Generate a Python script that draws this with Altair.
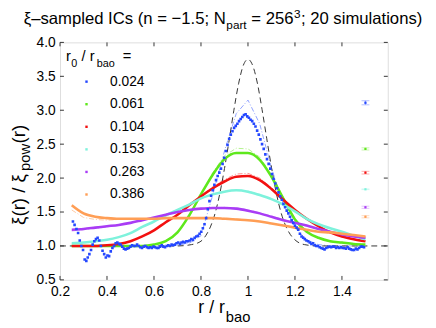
import altair as alt
import pandas as pd

FONT = "Liberation Sans"

# ---------------- data ----------------
labels = ["0.024", "0.061", "0.104", "0.153", "0.263", "0.386"]
colors = ["#2447ff", "#5ee81c", "#f21010", "#7ef2dc", "#a93cf5", "#ff9e55"]
model_colors = ["#92a3ff", "#b4f28e", "#ff8f8f", "#c2f8ef", "#d8a8fb", "#ffcaa3"]

grid_r = [0.25, 0.30, 0.35, 0.40, 0.45, 0.50, 0.55, 0.60, 0.65, 0.70, 0.75, 0.80, 0.85,
          0.90, 0.95, 1.00, 1.05, 1.10, 1.15, 1.20, 1.25, 1.30, 1.35, 1.40, 1.45, 1.50]

green_v = [1.00, 1.00, 1.00, 1.00, 1.00, 1.00, 1.00, 1.02, 1.07, 1.20, 1.45, 1.76, 2.05,
           2.28, 2.37, 2.37, 2.27, 2.02, 1.70, 1.39, 1.21, 1.12, 1.07, 1.05, 1.03, 1.02]
red_v = [1.00, 1.00, 1.00, 1.01, 1.03, 1.07, 1.14, 1.23, 1.35, 1.46, 1.60, 1.73, 1.85,
         1.95, 2.02, 2.03, 1.97, 1.84, 1.68, 1.53, 1.40, 1.29, 1.20, 1.14, 1.10, 1.07]
cyan_v = [1.04, 1.05, 1.07, 1.09, 1.13, 1.19, 1.28, 1.36, 1.45, 1.53, 1.61, 1.70, 1.76,
          1.80, 1.82, 1.80, 1.75, 1.69, 1.61, 1.51, 1.40, 1.32, 1.26, 1.21, 1.15, 1.10]
purple_v = [1.24, 1.25, 1.27, 1.29, 1.31, 1.34, 1.38, 1.42, 1.46, 1.50, 1.53, 1.55, 1.56,
            1.56, 1.55, 1.52, 1.48, 1.43, 1.38, 1.34, 1.30, 1.25, 1.21, 1.17, 1.14, 1.12]
orange_v = [1.60, 1.48, 1.43, 1.41, 1.40, 1.40, 1.40, 1.40, 1.41, 1.41, 1.41, 1.41, 1.41,
            1.40, 1.39, 1.38, 1.36, 1.33, 1.30, 1.27, 1.24, 1.21, 1.20, 1.18, 1.16, 1.14]

# thin dash-dot model curves
blue_m = [1.00, 1.00, 1.00, 1.00, 1.00, 1.00, 1.00, 1.00, 1.00, 1.01, 1.04, 1.15, 1.75,
          2.40, 2.95, 3.15, 2.80, 2.15, 1.62, 1.27, 1.09, 1.02, 1.00, 1.00, 1.00, 1.00]
green_m = [1.00, 1.00, 1.00, 1.00, 1.00, 1.00, 1.00, 1.02, 1.07, 1.19, 1.43, 1.76, 2.08,
           2.33, 2.44, 2.43, 2.31, 2.05, 1.72, 1.40, 1.21, 1.11, 1.06, 1.04, 1.03, 1.02]
red_m = [1.00, 1.00, 1.00, 1.01, 1.03, 1.07, 1.14, 1.23, 1.34, 1.46, 1.60, 1.74, 1.87,
         1.98, 2.06, 2.07, 2.00, 1.86, 1.69, 1.53, 1.40, 1.29, 1.20, 1.14, 1.10, 1.07]
cyan_m = [1.03, 1.04, 1.06, 1.09, 1.13, 1.19, 1.27, 1.36, 1.45, 1.53, 1.62, 1.70, 1.77,
          1.81, 1.83, 1.81, 1.76, 1.69, 1.61, 1.51, 1.41, 1.32, 1.26, 1.20, 1.15, 1.10]
purple_m = [1.22, 1.24, 1.26, 1.28, 1.31, 1.34, 1.38, 1.42, 1.46, 1.50, 1.53, 1.55, 1.56,
            1.57, 1.56, 1.53, 1.49, 1.44, 1.39, 1.34, 1.29, 1.25, 1.21, 1.17, 1.14, 1.12]
orange_m = [1.53, 1.42, 1.39, 1.38, 1.39, 1.39, 1.40, 1.40, 1.41, 1.41, 1.41, 1.41, 1.41,
            1.41, 1.40, 1.38, 1.36, 1.33, 1.30, 1.27, 1.24, 1.21, 1.19, 1.17, 1.15, 1.13]

# blue (r0/rbao = 0.024) measured points
blue_r = [0.255, 0.262, 0.270, 0.277, 0.284, 0.291, 0.298, 0.305, 0.312, 0.318, 0.325,
          0.332, 0.339, 0.346, 0.353, 0.360, 0.367, 0.374, 0.381, 0.388, 0.395, 0.402,
          0.409, 0.416, 0.423, 0.430, 0.437, 0.444, 0.451, 0.458, 0.465, 0.472, 0.479,
          0.486, 0.493, 0.500, 0.507, 0.514, 0.521, 0.528, 0.535, 0.542, 0.549, 0.556,
          0.563, 0.570, 0.577, 0.584, 0.591, 0.598, 0.605, 0.612, 0.619, 0.626, 0.633,
          0.640, 0.647, 0.654, 0.661, 0.668, 0.675, 0.682, 0.689, 0.696, 0.703, 0.710,
          0.717, 0.724, 0.731, 0.738, 0.745, 0.752, 0.759, 0.766, 0.773, 0.780, 0.787,
          0.794, 0.801, 0.808, 0.815, 0.822, 0.829, 0.836, 0.843, 0.850, 0.857, 0.864,
          0.871, 0.878, 0.885, 0.892, 0.899, 0.906, 0.913, 0.920, 0.927, 0.934, 0.941,
          0.948, 0.955, 0.962, 0.969, 0.976, 0.983, 0.990, 0.997, 1.004, 1.011, 1.018,
          1.025, 1.032, 1.039, 1.046, 1.053, 1.060, 1.067, 1.074, 1.081, 1.088, 1.095,
          1.102, 1.109, 1.116, 1.123, 1.130, 1.137, 1.144, 1.151, 1.158, 1.165, 1.172,
          1.179, 1.186, 1.193, 1.200, 1.207, 1.214, 1.221, 1.228, 1.235, 1.242, 1.249,
          1.256, 1.263, 1.270, 1.277, 1.284, 1.291, 1.298, 1.305, 1.312, 1.319, 1.326,
          1.333, 1.340, 1.347, 1.354, 1.361, 1.368, 1.375, 1.382, 1.389, 1.396, 1.403,
          1.410, 1.417, 1.424, 1.431, 1.438, 1.445, 1.452, 1.459, 1.466, 1.473, 1.480,
          1.487, 1.494]
blue_v = [1.36, 1.31, 1.25, 1.19, 1.08, 1.00, 0.94, 0.80, 0.78, 0.83, 0.88,
          0.94, 1.02, 1.07, 1.10, 1.12, 1.08, 1.00, 0.93, 0.88, 0.83, 0.86,
          0.85, 0.92, 0.97, 1.00, 1.04, 1.05, 1.03, 1.02, 0.99, 0.96, 0.95,
          0.96, 0.97, 0.99, 1.01, 1.00, 1.00, 1.02, 1.00, 0.98, 0.97, 0.99,
          1.00, 0.98, 0.97, 0.98, 0.97, 0.99, 0.98, 0.97, 0.97, 0.99, 1.01,
          0.99, 0.98, 1.00, 1.01, 1.00, 1.02, 1.01, 1.02, 1.04, 1.05, 1.03,
          1.05, 1.06, 1.05, 1.07, 1.07, 1.08, 1.10, 1.09, 1.12, 1.14, 1.15,
          1.18, 1.21, 1.26, 1.32, 1.41, 1.54, 1.66, 1.74, 1.82, 1.90, 1.97,
          2.03, 2.08, 2.14, 2.21, 2.30, 2.40, 2.49, 2.58, 2.64, 2.69, 2.74,
          2.77, 2.80, 2.84, 2.87, 2.90, 2.93, 2.94, 2.91, 2.89, 2.86, 2.84,
          2.80, 2.76, 2.70, 2.64, 2.57, 2.50, 2.43, 2.35, 2.28, 2.21, 2.14,
          2.06, 1.99, 1.92, 1.85, 1.79, 1.73, 1.68, 1.62, 1.57, 1.52, 1.48,
          1.43, 1.38, 1.34, 1.30, 1.27, 1.24, 1.18, 1.14, 1.12, 1.10, 1.08,
          1.07, 1.05, 1.03, 1.04, 1.01, 1.00, 1.00, 0.98, 0.97, 0.96, 0.95,
          0.97, 0.98, 0.99, 0.98, 0.99, 0.99, 0.97, 0.98, 0.97, 0.98, 0.97,
          0.97, 0.96, 0.98, 0.96, 0.95, 0.94, 0.94, 0.96, 0.95, 0.97, 0.99,
          0.99, 0.98]

# linear-theory reference (black dashed)
ref_r = [0.20, 0.30, 0.40, 0.50, 0.60, 0.70, 0.76, 0.80, 0.82, 0.84, 0.86, 0.88, 0.90,
         0.92, 0.94, 0.96, 0.98, 1.00, 1.02, 1.04, 1.06, 1.08, 1.10, 1.12, 1.14, 1.16,
         1.18, 1.20, 1.24, 1.30, 1.40, 1.50, 1.59]
ref_v = [1.00, 1.00, 1.00, 1.00, 1.00, 1.00, 1.02, 1.07, 1.15, 1.28, 1.48, 1.77, 2.14,
         2.56, 3.00, 3.39, 3.66, 3.75, 3.66, 3.40, 3.01, 2.58, 2.16, 1.79, 1.50, 1.30,
         1.17, 1.09, 1.02, 1.00, 1.00, 1.00, 1.00]

# error bars drawn at r = 1.5
err_r = 1.5
err_v = [3.11, 2.43, 2.08, 1.835, 1.57, 1.43]
err_e = [0.03, 0.016, 0.02, 0.005, 0.016, 0.016]

x_ticks = [0.2, 0.4, 0.6, 0.8, 1.0, 1.2, 1.4]
y_ticks = [0.5, 1.0, 1.5, 2.0, 2.5, 3.0, 3.5, 4.0]

title_parts = ["ξ–sampled ICs (n = −1.5; N", "part", "= 256", "3", "; 20 simulations)"]
ytitle_parts = ["ξ(r) / ξ", "pow", "(r)"]
xtitle_parts = ["r / r", "bao"]
legtitle_parts = ["r", "0", "/ r", "bao", "="]

# ---------------- layout ----------------
W, H = 334, 242
XS = alt.Scale(domain=[0.2, 1.595], nice=False, zero=False)
YS = alt.Scale(domain=[0.5, 4.0], nice=False, zero=False)
XAX = alt.Axis(values=x_ticks, labelExpr="datum.value == 1 ? '1' : format(datum.value, '.1f')",
               ticks=False, domain=False, grid=False, labelFontSize=14, labelFont=FONT,
               labelColor="#000", labelPadding=5, title=None, labelFlush=False)
YAX = alt.Axis(values=y_ticks, format=".1f", ticks=False, domain=False, grid=False,
               labelFontSize=14, labelFont=FONT, labelColor="#000", labelPadding=5,
               title=None, labelFlush=False)


def xenc():
    return alt.X("r:Q", scale=XS, axis=XAX)


def yenc():
    return alt.Y("v:Q", scale=YS, axis=YAX)


def long_df(vals_list, names):
    rows = []
    for name, vals in zip(names, vals_list):
        for r, v in zip(grid_r, vals):
            rows.append({"r": r, "v": v, "s": name})
    return pd.DataFrame(rows)


lines_df = long_df([green_v, red_v, cyan_v, purple_v, orange_v], labels[1:])
models_df = long_df([blue_m, green_m, red_m, cyan_m, purple_m, orange_m], labels)
blue_df = pd.DataFrame({"r": blue_r, "v": blue_v})
ref_df = pd.DataFrame({"r": ref_r, "v": ref_v})
err_df = pd.DataFrame({"r": [err_r] * 6, "v": err_v,
                       "lo": [a - b for a, b in zip(err_v, err_e)],
                       "hi": [a + b for a, b in zip(err_v, err_e)],
                       "s": labels})

models = alt.Chart(models_df).mark_line(strokeWidth=1, strokeDash=[5, 2, 1, 2], clip=True).encode(
    x=xenc(), y=yenc(),
    color=alt.Color("s:N", scale=alt.Scale(domain=labels, range=model_colors), legend=None),
    detail="s:N")

lines = alt.Chart(lines_df).mark_line(strokeWidth=2.6, interpolate="monotone", clip=True).encode(
    x=xenc(), y=yenc(),
    color=alt.Color("s:N", scale=alt.Scale(domain=labels[1:], range=colors[1:]), legend=None),
    detail="s:N")

blue_pts = alt.Chart(blue_df).mark_square(size=7, color=colors[0], opacity=1, clip=True).encode(
    x=xenc(), y=yenc())

ref_line = alt.Chart(ref_df).mark_line(strokeWidth=1, strokeDash=[6, 4], color="#333333",
                                       interpolate="monotone", clip=True).encode(x=xenc(), y=yenc())

err_rule = alt.Chart(err_df).mark_rule(strokeWidth=1.2).encode(
    x=xenc(), y=alt.Y("lo:Q", scale=YS, axis=YAX), y2="hi:Q",
    color=alt.Color("s:N", scale=alt.Scale(domain=labels, range=model_colors), legend=None))
err_lo = alt.Chart(err_df).mark_tick(orient="horizontal", size=8, thickness=1).encode(
    x=xenc(), y=alt.Y("lo:Q", scale=YS, axis=YAX),
    color=alt.Color("s:N", scale=alt.Scale(domain=labels, range=model_colors), legend=None))
err_hi = alt.Chart(err_df).mark_tick(orient="horizontal", size=8, thickness=1).encode(
    x=xenc(), y=alt.Y("hi:Q", scale=YS, axis=YAX),
    color=alt.Color("s:N", scale=alt.Scale(domain=labels, range=model_colors), legend=None))
err_pt = alt.Chart(err_df).mark_square(size=5, opacity=1).encode(
    x=xenc(), y=yenc(),
    color=alt.Color("s:N", scale=alt.Scale(domain=labels, range=colors),
                    legend=alt.Legend(orient="none", legendX=20, legendY=33, title=None,
                                      symbolType="square", symbolSize=6, symbolStrokeWidth=0,
                                      labelFontSize=14, labelFont=FONT, labelColor="#000",
                                      labelOffset=17, rowPadding=9, padding=0)))

# inner tick marks on all four sides
xt_df = pd.DataFrame({"r": x_ticks})
yt_df = pd.DataFrame({"v": y_ticks})
TC = "#333333"
tick_b = alt.Chart(xt_df).mark_rule(color=TC, strokeWidth=1).encode(
    x=xenc(), y=alt.value(H), y2=alt.value(H - 4))
tick_t = alt.Chart(xt_df).mark_rule(color=TC, strokeWidth=1).encode(
    x=xenc(), y=alt.value(0), y2=alt.value(4))
tick_l = alt.Chart(yt_df).mark_rule(color=TC, strokeWidth=1).encode(
    y=yenc(), x=alt.value(0), x2=alt.value(4))
tick_r = alt.Chart(yt_df).mark_rule(color=TC, strokeWidth=1).encode(
    y=yenc(), x=alt.value(W), x2=alt.value(W - 4))


def txt(s, x, y, size, angle=0):
    m = alt.Chart(pd.DataFrame({"t": [s]})).mark_text(
        align="left", baseline="alphabetic", font=FONT, fontSize=size, color="#000",
        angle=angle)
    return m.encode(x=alt.value(x), y=alt.value(y), text="t:N")


# title pieces
T1, T2 = 17, 12
TB = -19
YB = -35.5
texts = [
    txt(title_parts[0], -37, TB, T1),
    txt(title_parts[1], 169.5, TB + 5, T2),
    txt(title_parts[2], 195, TB, T1),
    txt(title_parts[3], 238.5, TB - 6, T2),
    txt(title_parts[4], 245.5, TB, T1),
    # x title
    txt(xtitle_parts[0], 141, 276, 18),
    txt(xtitle_parts[1], 169, 285, 15),
    # y title (rotated)
    txt(ytitle_parts[0], YB, 186, 19, 270),
    txt(ytitle_parts[1], YB + 5, 131, 15, 270),
    txt(ytitle_parts[2], YB, 103, 19, 270),
    # legend title
    txt(legtitle_parts[0], 6, 18.5, 15),
    txt(legtitle_parts[1], 11.5, 25.5, 11),
    txt(legtitle_parts[2], 22, 18.5, 15),
    txt(legtitle_parts[3], 37.5, 25.5, 11),
    txt(legtitle_parts[4], 64, 18.5, 15),
]

chart = alt.layer(
    models, ref_line, lines, blue_pts, err_rule, err_lo, err_hi, err_pt,
    tick_b, tick_t, tick_l, tick_r, *texts
).resolve_scale(color="independent").properties(
    width=W, height=H,
    autosize=alt.AutoSizeParams(type="none"),
    padding={"left": 53, "top": 32, "right": 41, "bottom": 46},
).configure_view(stroke="#8a8a8a", strokeWidth=1.5).configure(background="white")

chart.save("out.html", embed_options={"renderer": "svg", "actions": False})
